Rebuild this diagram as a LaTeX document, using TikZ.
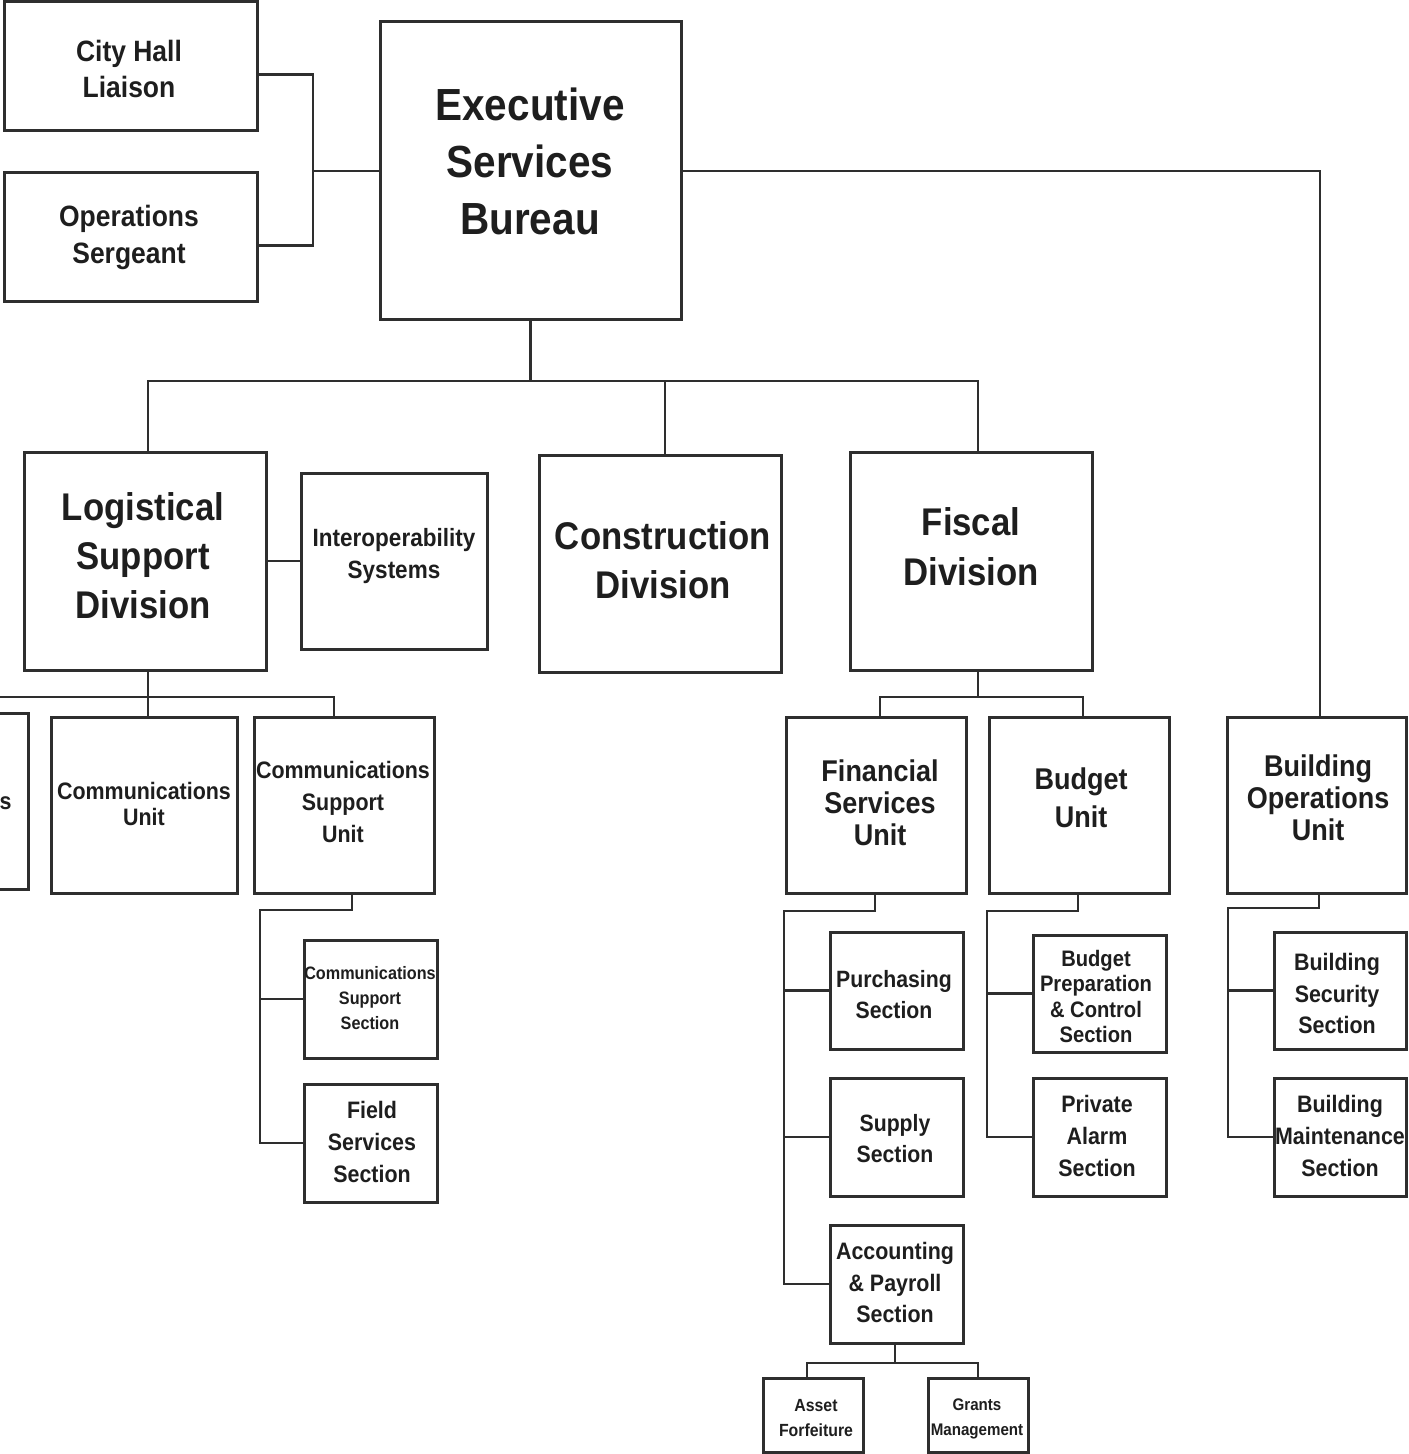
\documentclass[tikz,border=0pt]{standalone}
\usepackage{fontspec}
\setmainfont{Liberation Sans}[FakeStretch=0.9]
\usetikzlibrary{fit}
\definecolor{ink}{HTML}{2E2E2E}
\definecolor{txtc}{HTML}{1E1E1E}
\tikzset{
  box/.style={draw=ink, line width=1.5pt, inner sep=0pt, fill=white},
  wire/.style={draw=ink, line width=1.25pt},
  txt/.style={text=txtc, align=center, inner sep=0pt, font=\bfseries},
}
\newcommand{\fsz}[2]{\fontsize{#1}{#2}\selectfont\bfseries}
\begin{document}
\begin{tikzpicture}[x=0.5pt, y=-0.5pt]
\useasboundingbox (0,0) rectangle (1408,1454);
\clip (0,0) rectangle (1408,1454);
\fill[white] (0,0) rectangle (1408,1454);

% ---- junction points of the connector buses ----
\coordinate (jTop)  at (313,171);
\coordinate (jDiv)  at (530.5,381);
\coordinate (xLsd)  at (148,381);
\coordinate (xCd)   at (665,381);
\coordinate (xFd)   at (978,381);
\coordinate (xBou)  at (1320,171);
\coordinate (jLog)  at (148,697);
\coordinate (xCsu)  at (334,697);
\coordinate (jFis)  at (978,697);
\coordinate (xFsu)  at (880,697);
\coordinate (xBu)   at (1083,697);
\coordinate (jCsuA) at (352,910);
\coordinate (jCsuB) at (260,910);
\coordinate (jFsuA) at (875,911);
\coordinate (jFsuB) at (784,911);
\coordinate (jBuA)  at (1078,911);
\coordinate (jBuB)  at (987,911);
\coordinate (jBoA)  at (1319,908);
\coordinate (jBoB)  at (1228,908);
\coordinate (jAcc)  at (895,1363);
\coordinate (xAf)   at (807,1363);
\coordinate (xGm)   at (978,1363);

% ---- boxes ----
\node[box, fit={(4,2) (257,131)}]       (ch)   {};
\node[box, fit={(4,173) (257,302)}]     (os)   {};
\node[box, fit={(380,22) (681,320)}]    (esb)  {};
\node[box, fit={(24,452) (266,670)}]    (lsd)  {};
\node[box, fit={(301,473) (487,649)}]   (ios)  {};
\node[box, fit={(539,455) (781,672)}]   (cd)   {};
\node[box, fit={(850,452) (1092,670)}]  (fd)   {};
\node[box, fit={(-200,713) (28,889)}]   (cut)  {};
\node[box, fit={(51,717) (237,893)}]    (cu)   {};
\node[box, fit={(254,717) (434,893)}]   (csu)  {};
\node[box, fit={(304,940) (437,1058)}]  (css)  {};
\node[box, fit={(304,1084) (437,1202)}] (fss)  {};
\node[box, fit={(786,717) (966,893)}]   (fsu)  {};
\node[box, fit={(989,717) (1169,893)}]  (bu)   {};
\node[box, fit={(1227,717) (1406,893)}] (bou)  {};
\node[box, fit={(830,932) (963,1049)}]  (ps)   {};
\node[box, fit={(830,1078) (963,1196)}] (ss)   {};
\node[box, fit={(830,1225) (963,1343)}] (aps)  {};
\node[box, fit={(763,1378) (863,1452)}] (af)   {};
\node[box, fit={(928,1378) (1028,1452)}] (gm)  {};
\node[box, fit={(1033,935) (1166,1052)}] (bpcs) {};
\node[box, fit={(1033,1078) (1166,1196)}] (pas) {};
\node[box, fit={(1274,932) (1406,1049)}] (bss) {};
\node[box, fit={(1274,1078) (1406,1196)}] (bms) {};

% ---- connectors ----
\draw[wire] ([yshift=-4pt]ch.east) -| (jTop) |- ([yshift=-4pt]os.east);
\draw[wire] (jTop) -- (jTop -| esb.west);
\draw[wire] (xBou -| esb.east) -- (xBou) -- (xBou |- bou.north);
\draw[wire] (esb.south) -- (jDiv);
\draw[wire] (xLsd |- lsd.north) -- (xLsd) -- (xFd) -- (xFd |- fd.north);
\draw[wire] (xCd) -- (xCd |- cd.north);
\draw[wire] (lsd.east) -- (ios.west);
\draw[wire] (lsd.south -| jLog) -- (jLog);
\draw[wire] (cut.north) |- (jLog) -- (xCsu) -- (xCsu |- csu.north);
\draw[wire] (jLog) -- (cu.north -| jLog);
\draw[wire] (fd.south -| jFis) -- (jFis);
\draw[wire] (xFsu |- fsu.north) -- (xFsu) -- (xBu) -- (xBu |- bu.north);
\draw[wire] (csu.south -| jCsuA) -- (jCsuA) -- (jCsuB) |- (fss.west);
\draw[wire] (jCsuB |- css.west) -- (css.west);
\draw[wire] (fsu.south -| jFsuA) -- (jFsuA) -- (jFsuB) |- (aps.west);
\draw[wire] (jFsuB |- ps.west) -- (ps.west);
\draw[wire] (jFsuB |- ss.west) -- (ss.west);
\draw[wire] (aps.south -| jAcc) -- (jAcc);
\draw[wire] (xAf |- af.north) -- (xAf) -- (xGm) -- (xGm |- gm.north);
\draw[wire] (bu.south -| jBuA) -- (jBuA) -- (jBuB) |- (pas.west);
\draw[wire] (jBuB |- bpcs.west) -- (bpcs.west);
\draw[wire] (bou.south -| jBoA) -- (jBoA) -- (jBoB) |- (bms.west);
\draw[wire] (jBoB |- bss.west) -- (bss.west);

% ---- labels ----
\node[txt, font=\fsz{14.7}{18}]   at (129,69)     {City Hall\\Liaison};
\node[txt, font=\fsz{14.7}{18.5}] at (129,237.5)  {Operations\\Sergeant};
\node[txt, font=\fsz{22.5}{28.5}] at (530,161)    {Executive\\Services\\Bureau};
\node[txt, font=\fsz{19.3}{24.5}] at (143,556)    {Logistical\\Support\\Division};
\node[txt, font=\fsz{12.5}{16}]   at (394,556)    {Interoperability\\Systems};
\node[txt, font=\fsz{19.3}{24.5}] at (663,560.5)  {Construction\\Division};
\node[txt, font=\fsz{19.3}{25}]   at (971,547)    {Fiscal\\Division};
\node[txt, font=\fsz{11.9}{13}, anchor=east] at (12,803) {s};
\node[txt, font=\fsz{11.9}{13}]   at (144,804)    {Communications\\Unit};
\node[txt, font=\fsz{11.9}{16}]   at (343,802)    {Communications\\Support\\Unit};
\node[txt, font=\fsz{9}{12.5}]    at (370,998)    {Communications\\Support\\Section};
\node[txt, font=\fsz{11.9}{16}]   at (372,1142)   {Field\\Services\\Section};
\node[txt, font=\fsz{15}{16}]     at (880,803)    {Financial\\Services\\Unit};
\node[txt, font=\fsz{15}{19}]     at (1081,798)   {Budget\\Unit};
\node[txt, font=\fsz{15}{16}]     at (1318,798)   {Building\\Operations\\Unit};
\node[txt, font=\fsz{11.8}{15.5}] at (894,994.5)  {Purchasing\\Section};
\node[txt, font=\fsz{11.8}{15.5}] at (895,1138.5) {Supply\\Section};
\node[txt, font=\fsz{11.9}{15.75}] at (895,1282.5) {Accounting\\\& Payroll\\Section};
\node[txt, font=\fsz{8.8}{12.5}]  at (816,1418.5) {Asset\\Forfeiture};
\node[txt, font=\fsz{8.4}{12.5}]  at (977,1418.5) {Grants\\Management};
\node[txt, font=\fsz{11.2}{12.8}] at (1096,996.5) {Budget\\Preparation\\\& Control\\Section};
\node[txt, font=\fsz{11.9}{16}]   at (1097,1136)  {Private\\Alarm\\Section};
\node[txt, font=\fsz{11.9}{15.75}] at (1337,993.5) {Building\\Security\\Section};
\node[txt, font=\fsz{11.9}{16}]   at (1340,1136)  {Building\\Maintenance\\Section};
\end{tikzpicture}
\end{document}
